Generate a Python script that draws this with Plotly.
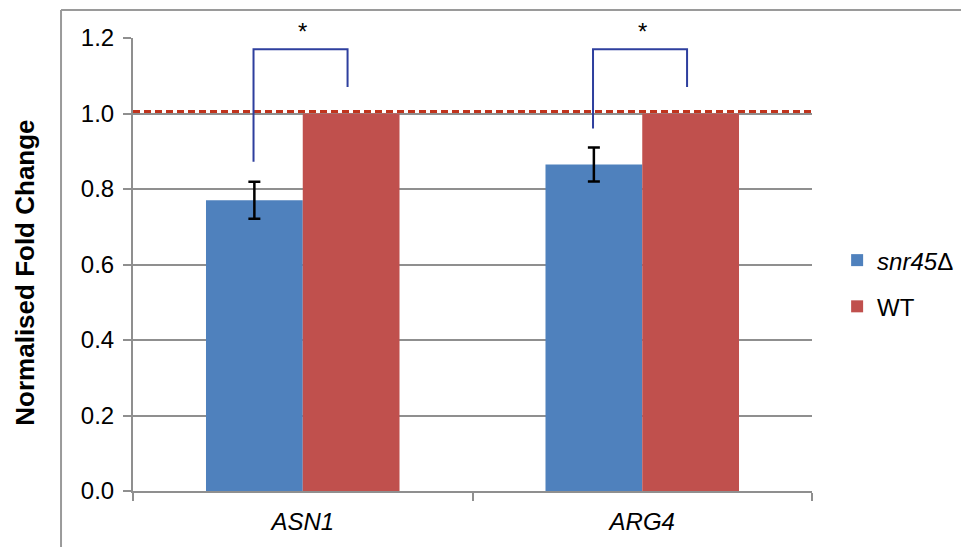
import plotly.graph_objects as go

# Expression data (normalised to wild type)
genes = ["ASN1", "ARG4"]
snr45_values = [0.77, 0.865]
snr45_errors = [0.049, 0.045]
wt_values = [1.0, 1.0]
reference_level = 1.005

# Significance brackets: left leg start, bracket top, right leg end
bracket_left = [0.872, 0.96]
bracket_top = [1.17, 1.17]
bracket_right = [1.07, 1.07]
star_level = 1.217

Y_MAX = 1.2
FONT = "Arial, Liberation Sans, sans-serif"
GRID = "#8f8f8f"
BLUE = "#4F81BD"
RED = "#C0504D"
BRACKET = "#2E3F9E"

fig = go.Figure()
fig.add_trace(go.Bar(
    x=genes, y=snr45_values, name="<i>snr45</i>Δ",
    marker=dict(color=BLUE, line=dict(width=0)),
    error_y=dict(type="data", array=snr45_errors, color="black",
                 thickness=2.5, width=6),
    legendgroup="a",
))
fig.add_trace(go.Bar(
    x=genes, y=wt_values, name="WT",
    marker=dict(color=RED, line=dict(width=0)),
    legendgroup="b",
))

# Dashed reference line across the plot area
fig.add_shape(type="line", xref="paper", yref="y", x0=0, x1=1,
              y0=reference_level, y1=reference_level,
              line=dict(color="#C0341D", width=3, dash="7px,4px"))

# Significance brackets and stars
left_off, right_off = -0.145, 0.132
for i in range(len(genes)):
    xl, xr = i + left_off, i + right_off
    fig.add_shape(type="path", xref="x", yref="y",
                  path=f"M {xl},{bracket_left[i]} L {xl},{bracket_top[i]} "
                       f"L {xr},{bracket_top[i]} L {xr},{bracket_right[i]}",
                  line=dict(color=BRACKET, width=2))
    fig.add_annotation(x=i, y=star_level / Y_MAX, xref="x", yref="paper", text="*",
                       showarrow=False, yanchor="middle",
                       font=dict(family=FONT, size=24, color="black"))

# Y axis title
fig.add_annotation(x=-0.159, y=0.482, xref="paper", yref="paper",
                   text="<b>Normalised Fold Change</b>", textangle=-90,
                   showarrow=False, xanchor="center", yanchor="middle",
                   font=dict(family=FONT, size=26, color="black"))

# Outer chart frame (runs off the right and bottom edges)
fig.add_shape(type="line", xref="paper", yref="paper", x0=-0.106, x1=1.4,
              y0=1.062, y1=1.062, line=dict(color="#9a9a9a", width=2))
fig.add_shape(type="line", xref="paper", yref="paper", x0=-0.106, x1=-0.106,
              y0=1.062, y1=-0.3, line=dict(color="#9a9a9a", width=2))

fig.update_layout(
    width=961, height=547,
    margin=dict(l=133, r=149, t=38, b=56, autoexpand=False),
    paper_bgcolor="white", plot_bgcolor="white",
    barmode="group", bargap=0.43, bargroupgap=0,
    font=dict(family=FONT, size=24, color="black"),
    showlegend=True,
    legend=dict(x=1.037, y=0.458, xanchor="left", yanchor="middle",
                traceorder="grouped", tracegroupgap=12,
                font=dict(family=FONT, size=24, color="black"),
                bgcolor="rgba(0,0,0,0)"),
    xaxis=dict(
        type="category", tickson="boundaries", ticks="outside", ticklen=8,
        tickcolor=GRID, tickwidth=2, showline=True, linecolor=GRID, linewidth=2,
        showgrid=False, ticklabelstandoff=8,
        tickfont=dict(family=FONT, size=24, style="italic"),
    ),
    yaxis=dict(
        range=[0, Y_MAX], tickvals=[0, 0.2, 0.4, 0.6, 0.8, 1.0, 1.2],
        tickformat=".1f", ticks="outside", ticklen=8, tickcolor=GRID, tickwidth=2,
        showline=True, linecolor=GRID, linewidth=2,
        showgrid=True, gridcolor=GRID, gridwidth=2, zeroline=False,
        ticklabelstandoff=4,
        tickfont=dict(family=FONT, size=24),
    ),
)

fig.write_html("out.html", config={"displayModeBar": False})
